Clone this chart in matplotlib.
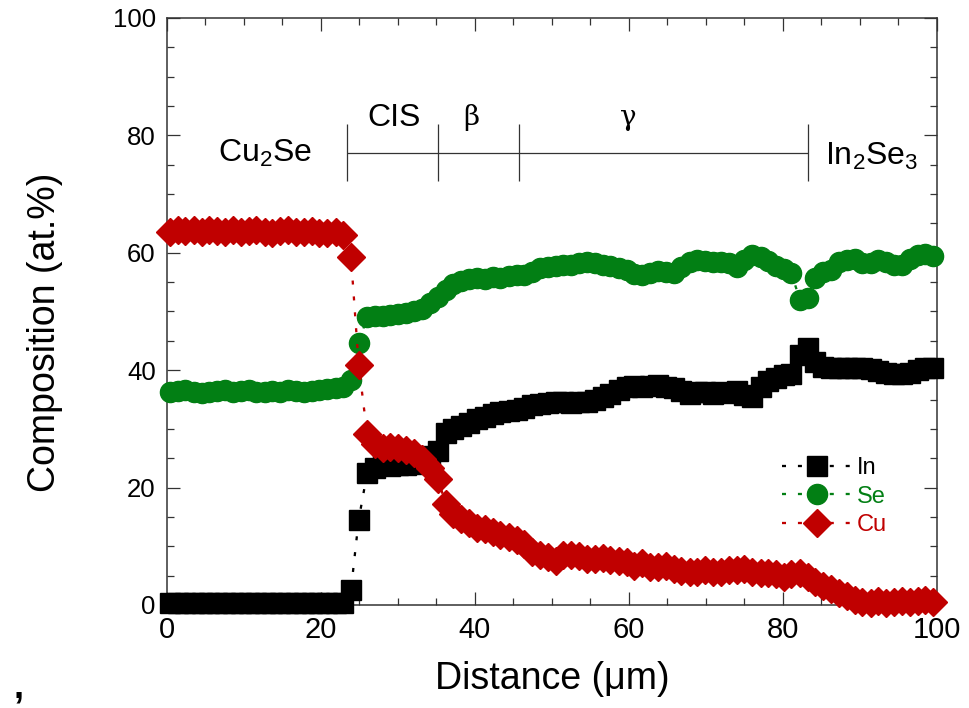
import matplotlib
matplotlib.use('Agg')
import matplotlib.pyplot as plt
from matplotlib import font_manager
from matplotlib.ticker import MultipleLocator

names = {f.name for f in font_manager.fontManager.ttflist}
WIDE = 'Liberation Sans'
NARROW = 'Liberation Sans Narrow' if 'Liberation Sans Narrow' in names else 'Liberation Sans'

distance = [0.4, 1.4, 2.4, 3.5, 4.5, 5.5, 6.5, 7.6, 8.6, 9.6,
            10.6, 11.6, 12.7, 13.7, 14.7, 15.7, 16.8, 17.8, 18.8, 19.8,
            20.8, 21.9, 22.9, 23.9, 24.9, 26.0, 27.0, 28.0, 29.0, 30.0,
            31.1, 32.1, 33.1, 34.1, 35.2, 36.2, 37.2, 38.2, 39.2, 40.3,
            41.3, 42.3, 43.3, 44.4, 45.4, 46.4, 47.4, 48.4, 49.5, 50.5,
            51.5, 52.5, 53.5, 54.6, 55.6, 56.6, 57.6, 58.7, 59.7, 60.7,
            61.7, 62.7, 63.8, 64.8, 65.8, 66.8, 67.9, 68.9, 69.9, 70.9,
            71.9, 73.0, 74.0, 75.0, 76.0, 77.1, 78.1, 79.1, 80.1, 81.1,
            82.2, 83.2, 84.2, 85.2, 86.3, 87.3, 88.3, 89.3, 90.3, 91.4,
            92.4, 93.4, 94.4, 95.5, 96.5, 97.5, 98.5, 99.5]

indium = [0.3, 0.4, 0.3, 0.3, 0.4, 0.3, 0.3, 0.4, 0.3, 0.4,
          0.3, 0.4, 0.3, 0.3, 0.4, 0.3, 0.4, 0.3, 0.4, 0.3,
          0.4, 0.3, 0.3, 2.6, 14.5, 22.5, 23.3, 23.8, 23.7, 23.8,
          23.9, 24.0, 24.6, 25.3, 26.2, 29.3, 30.0, 30.5, 31.0, 31.6,
          32.0, 32.5, 32.8, 33.0, 33.3, 33.5, 34.0, 34.2, 34.4, 34.5,
          34.5, 34.4, 34.5, 34.6, 35.0, 35.5, 36.0, 36.6, 37.2, 37.3,
          37.1, 37.3, 37.4, 37.2, 37.0, 36.4, 36.0, 36.2, 36.2, 36.0,
          36.2, 36.1, 36.4, 35.8, 35.4, 37.2, 38.2, 38.6, 39.2, 39.4,
          42.6, 43.7, 41.4, 40.5, 40.4, 40.3, 40.4, 40.3, 40.4, 40.2,
          39.9, 39.6, 39.4, 39.4, 39.6, 40.1, 40.3, 40.3]

selenium = [36.2, 36.5, 36.6, 36.3, 36.1, 36.2, 36.4, 36.6, 36.3, 36.5,
            36.6, 36.3, 36.2, 36.4, 36.3, 36.6, 36.4, 36.3, 36.4, 36.7,
            36.8, 37.0, 37.1, 38.3, 44.6, 49.1, 49.2, 49.3, 49.4, 49.6,
            49.8, 50.1, 50.5, 51.4, 52.5, 53.6, 54.6, 55.2, 55.5, 55.7,
            55.6, 55.8, 55.7, 56.0, 56.3, 56.2, 56.8, 57.4, 57.6, 57.8,
            57.9, 58.0, 58.2, 58.4, 58.2, 58.0, 57.8, 57.4, 57.0, 56.4,
            56.3, 56.6, 56.9, 56.7, 56.5, 57.6, 58.5, 58.7, 58.6, 58.4,
            58.5, 58.2, 57.5, 58.8, 59.6, 59.2, 58.6, 57.8, 57.2, 56.5,
            52.0, 52.3, 55.7, 56.8, 57.1, 58.4, 58.8, 59.0, 58.3, 58.3,
            58.8, 58.4, 57.9, 57.9, 59.0, 59.6, 59.8, 59.4]

copper = [63.6, 63.9, 63.7, 63.8, 63.5, 63.9, 63.7, 63.6, 63.8, 63.5,
          63.7, 63.9, 63.6, 63.4, 63.7, 63.8, 63.5, 63.6, 63.7, 63.4,
          63.3, 63.5, 63.0, 59.3, 40.9, 29.1, 27.4, 26.8, 26.9, 26.8,
          26.4, 25.9, 24.8, 23.4, 21.5, 17.2, 15.5, 14.6, 14.0, 13.2,
          13.0, 12.4, 12.0, 11.6, 11.1, 10.4, 9.0, 8.5, 8.1, 7.5,
          8.5, 8.6, 8.3, 7.9, 7.8, 8.0, 7.6, 7.5, 7.3, 6.7,
          7.1, 6.5, 6.5, 6.6, 6.1, 5.8, 5.6, 5.7, 6.0, 5.6,
          5.6, 6.0, 6.0, 6.1, 5.7, 5.5, 5.4, 5.2, 4.8, 5.2,
          5.5, 4.8, 3.9, 3.3, 2.8, 2.1, 1.5, 0.9, 0.5, 0.4,
          0.6, 0.4, 0.5, 0.7, 0.5, 0.6, 0.8, 0.5]

# phase regions along the scan
boundaries = [23.4, 35.2, 45.7, 83.2]

GREEN = '#027f14'
RED = '#c00000'

plt.rcParams['font.family'] = WIDE
plt.rcParams['mathtext.fontset'] = 'custom'
plt.rcParams['mathtext.rm'] = NARROW

fig = plt.figure(figsize=(9.69, 7.08), dpi=100)
ax = fig.add_axes([0.1723, 0.1455, 0.7946, 0.8291])

dots = (0, (1.75, 5.2))
ax.plot(distance, indium, ls=dots, lw=1.65, color='black', marker='s', ms=14,
        label='In', clip_on=False, zorder=3)
ax.plot(distance, selenium, ls=dots, lw=1.65, color=GREEN, marker='o', ms=14.5,
        label='Se', clip_on=False, zorder=3)
ax.plot(distance, copper, ls=dots, lw=1.65, color=RED, marker='D', ms=14.5,
        label='Cu', clip_on=False, zorder=3)

ax.set_xlim(0, 100)
ax.set_ylim(0, 100)
ax.xaxis.set_major_locator(MultipleLocator(20))
ax.xaxis.set_minor_locator(MultipleLocator(5))
ax.yaxis.set_major_locator(MultipleLocator(20))
ax.yaxis.set_minor_locator(MultipleLocator(5))
ax.tick_params(which='both', direction='in', top=True, right=True, width=0.9, color='#333333')
ax.tick_params(which='major', length=9.5, pad=8)
ax.tick_params(which='minor', length=5)
ax.tick_params(axis='y', labelsize=18.5)
for lab in ax.get_xticklabels():
    lab.set_fontfamily(NARROW)
    lab.set_fontsize(21)
for s in ax.spines.values():
    s.set_color('#333333')
    s.set_linewidth(1.1)

ax.set_xlabel('Distance (\u03bcm)', fontfamily=NARROW, fontsize=27, labelpad=12)
ax.set_ylabel('Composition (at.%)', fontsize=27, labelpad=36, y=0.465)

# phase bracket
ax.hlines(77.0, boundaries[0], boundaries[-1], color='#333333', lw=0.9)
ax.vlines(boundaries, 72.3, 81.9, color='#333333', lw=0.9)
tk = dict(fontfamily=NARROW, fontsize=23, ha='center', va='center')
ax.text(12.7, 77.0, r'Cu$_\mathregular{2}$Se', **tk)
ax.text(29.5, 83.0, 'CIS', **tk)
ax.text(39.5, 83.0, '\u03b2', fontfamily='DejaVu Serif', fontsize=20, ha='center', va='center')
ax.text(59.9, 83.0, '\u03b3', fontfamily='DejaVu Serif', fontsize=20, ha='center', va='center')
ax.text(91.5, 76.5, r'In$_\mathregular{2}$Se$_\mathregular{3}$', **tk)

leg = ax.legend(loc='upper left', bbox_to_anchor=(0.787, 0.268), frameon=False,
                fontsize=17, handlelength=2.9, handletextpad=0.25, labelspacing=0.28,
                borderaxespad=0)
for t, c in zip(leg.get_texts(), ['black', GREEN, RED]):
    t.set_color(c)

# small stray stroke in the lower left corner of the original figure
fig.text(0.014, 0.004, ',', fontsize=26, fontweight='bold', color='black', va='bottom')

fig.savefig('out.png', dpi=100)
